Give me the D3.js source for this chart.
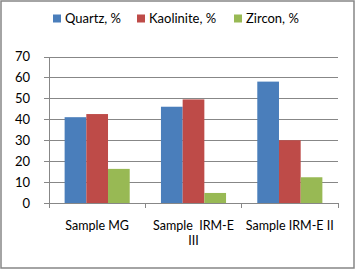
<!DOCTYPE html>
<html><head><meta charset="utf-8">
<script src="https://cdn.jsdelivr.net/npm/d3@7"></script>
<style>
html,body{margin:0;padding:0;background:#fff;}
text{font-family:Lato,"Open Sans",sans-serif;fill:#000;white-space:pre;}
</style></head>
<body>
<svg id="c" width="356" height="270"></svg>
<script>
const categories = ["Sample MG", "Sample  IRM-E III", "Sample IRM-E II"];
const categoryLines = [["Sample MG"], ["Sample  IRM-E", "III"], ["Sample IRM-E II"]];
const seriesNames = ["Quartz, %", "Kaolinite, %", "Zircon, %"];
const quartz = [41, 46, 58];
const kaolinite = [42.5, 49.5, 30];
const zircon = [16.3, 4.8, 12.3];
const yTicks = [0, 10, 20, 30, 40, 50, 60, 70];
const colors = ["#4a7ebb", "#be4b48", "#98b954"];

const series = [quartz, kaolinite, zircon];
const svg = d3.select("#c");
svg.append("rect").attr("x",1).attr("y",1).attr("width",353).attr("height",267)
  .attr("fill","#fff").attr("stroke","#868686").attr("stroke-width",1.5);

const pLeft = 49, pRight = 338, pTop = 56.5, pBottom = 203;
const x = d3.scaleBand().domain(categories).range([pLeft, pRight]).paddingInner(0).paddingOuter(0);
const y = d3.scaleLinear().domain([0, 70]).range([pBottom, pTop]);
const inner = d3.scaleBand().domain(d3.range(3)).range([0, x.bandwidth()]).paddingInner(0).paddingOuter(0.72);

// gridlines
const grid = d3.axisLeft(y).tickValues(yTicks).tickSize(-(pRight-pLeft)).tickFormat("");
svg.append("g").attr("transform",`translate(${pLeft},0)`).call(grid)
  .call(g=>g.select(".domain").remove())
  .call(g=>g.selectAll("line").attr("stroke","#878787").attr("shape-rendering","crispEdges"));

// y axis
const yAxis = d3.axisLeft(y).tickValues(yTicks).tickSize(5).tickPadding(14);
svg.append("g").attr("transform",`translate(${pLeft},0)`).call(yAxis)
  .call(g=>g.select(".domain").attr("stroke","#878787").attr("shape-rendering","crispEdges"))
  .call(g=>g.selectAll("line").attr("stroke","#878787").attr("shape-rendering","crispEdges"))
  .call(g=>g.selectAll("text").attr("font-size","13px").attr("font-family","Lato,'Open Sans',sans-serif").attr("fill","#000"));

// bars
series.forEach((vals, si) => {
  svg.append("g").selectAll("rect").data(vals).join("rect")
    .attr("x", (d,i)=> x(categories[i]) + inner(si))
    .attr("width", inner.bandwidth())
    .attr("y", d=> y(d))
    .attr("height", d=> y(0)-y(d))
    .attr("fill", colors[si]);
});

// x axis
const xAxisG = svg.append("g").attr("transform",`translate(0,${pBottom})`);
xAxisG.append("line").attr("x1",pLeft).attr("x2",pRight).attr("stroke","#878787").attr("shape-rendering","crispEdges");
const bounds = [pLeft].concat(categories.map(c=>x(c)+x.bandwidth()));
xAxisG.selectAll("line.tk").data(bounds).join("line").attr("class","tk")
  .attr("x1",d=>d).attr("x2",d=>d).attr("y1",0).attr("y2",5)
  .attr("stroke","#878787").attr("shape-rendering","crispEdges");

categories.forEach((c,i)=>{
  const t = svg.append("text").attr("text-anchor","middle").attr("font-size","12.5px")
    .attr("x", x(c)+x.bandwidth()/2).attr("y", 230);
  categoryLines[i].forEach((ln,j)=>{
    t.append("tspan").attr("x", x(c)+x.bandwidth()/2).attr("dy", j===0?0:15).text(ln);
  });
});

// legend
const legX = [53, 137, 234];
const legG = svg.append("g");
seriesNames.forEach((n,i)=>{
  legG.append("rect").attr("x",legX[i]).attr("y",14.5).attr("width",8).attr("height",8).attr("fill",colors[i]);
  legG.append("text").attr("x",legX[i]+12).attr("y",23).attr("font-size","13px").text(n);
});
</script>
</body></html>
